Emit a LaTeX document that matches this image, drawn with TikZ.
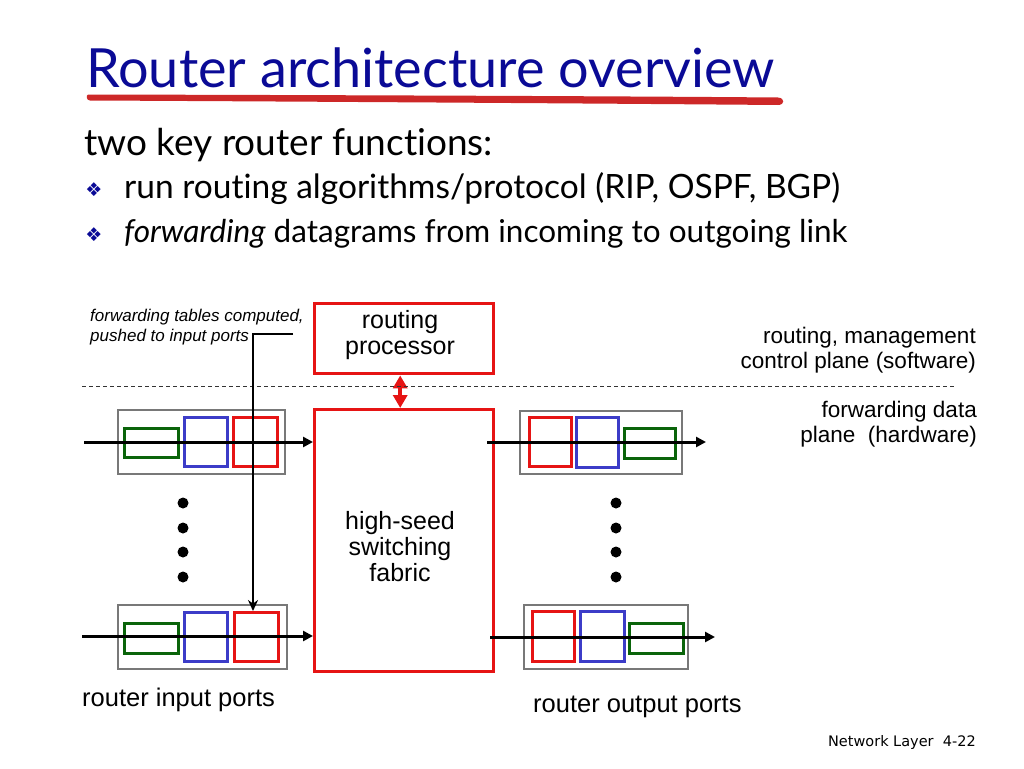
\documentclass[tikz,border=0pt]{standalone}
\usepackage{fontspec}
\setmainfont{Liberation Sans}
\newfontfamily\gillfont[Ligatures={NoCommon}]{Lato}
\newfontfamily\dejafont{DejaVu Sans}
\usetikzlibrary{arrows.meta}
\definecolor{titleblue}{RGB}{10,10,150}
\definecolor{brushred}{RGB}{205,40,40}
\definecolor{pred}{RGB}{230,20,20}
\definecolor{pblue}{RGB}{60,60,200}
\definecolor{pgreen}{RGB}{10,100,10}
\definecolor{pgray}{RGB}{120,120,120}
\tikzset{
  portbox/.style={draw=pgray, line width=2.4pt, inner sep=0pt, anchor=north west},
  qred/.style={draw=pred, line width=3pt, inner sep=0pt, anchor=north west},
  qblue/.style={draw=pblue, line width=3pt, inner sep=0pt, anchor=north west},
  qgreen/.style={draw=pgreen, line width=3pt, inner sep=0pt, anchor=north west},
  bigred/.style={draw=pred, line width=3.4pt, inner sep=0pt, anchor=north west},
  flow/.style={line width=3pt, -{Triangle[length=10pt,width=10pt]}},
  dot/.style={circle, fill=black, inner sep=0pt, minimum size=11pt},
  lbl/.style={inner sep=0pt, font=\fontsize{25}{26}\selectfont, align=center},
  side/.style={inner sep=0pt, font=\fontsize{22.5}{25}\selectfont, align=right, anchor=east},
  bul/.style={inner sep=0pt, text=titleblue, font=\dejafont\fontsize{19}{20}\selectfont},
}
\begin{document}
\begin{tikzpicture}[x=1pt,y=-1pt]
\useasboundingbox (0,0) rectangle (1024,768);
% title
\node[anchor=base west, inner sep=0pt, text=titleblue, font=\gillfont\fontsize{54}{58}\selectfont] (title) at (86,87) {Router architecture overview};
\fill[brushred] (88,94.5) .. controls (300,95) and (600,96) .. (778,97.5)
  .. controls (785,98) and (785,105) .. (778,105)
  .. controls (600,103.5) and (300,101.5) .. (90,100.5) .. controls (86,100.5) and (86,95) .. (88,94.5) -- cycle;
% subtitle and bullets
\node[anchor=base west, inner sep=0pt, font=\gillfont\fontsize{37}{40}\selectfont] (sub) at (84,155) {two key router functions:};
\node[bul] (b1) at (94,190) {❖};
\node[bul] (b2) at (94,235) {❖};
\node[anchor=base west, inner sep=0pt, font=\gillfont\fontsize{33.5}{36}\selectfont] (t1) at (124,198) {run routing algorithms/protocol (RIP, OSPF, BGP)};
\node[anchor=base west, inner sep=0pt, font=\gillfont\fontsize{31.5}{36}\selectfont] (t2) at (124,242) {\textit{forwarding} datagrams from incoming to outgoing link};
% annotation
\node[anchor=north west, inner sep=0pt, align=left, font=\itshape\fontsize{17}{20}\selectfont] (ann) at (90,309) {forwarding tables computed,\\pushed to input ports};
% routing processor and fabric
\node[bigred, minimum width=179pt, minimum height=70pt] (proc) at (313,302) {};
\node[lbl] (proctxt) at (400,335) {routing\\processor};
\node[bigred, minimum width=179pt, minimum height=262pt] (fab) at (313,408) {};
\node[lbl] (fabtxt) at (400,547) {high-seed\\switching\\fabric};
\draw[pred, line width=3.5pt, {Triangle[length=13pt,width=14pt]}-{Triangle[length=13pt,width=14pt]}] ([xshift=-4pt]proc.south) -- ([xshift=-4pt]fab.north);
% dashed separator
\coordinate (dl) at (82,386);
\coordinate (dr) at (955,386);
\draw[line width=0.9pt, dash pattern=on 4pt off 3pt, black!80] (dl) -- (dr);
% side labels
\node[side] (ctl) at (976,350) {routing, management\\control plane (software)};
\node[side] (fwd) at (977,424) {forwarding data\\plane\ \ (hardware)};
% input port top
\node[portbox, minimum width=167pt, minimum height=64pt] (ip1) at (117,409) {};
\node[qgreen, minimum width=54pt, minimum height=29pt] (ig1) at (123,427) {};
\node[qblue, minimum width=43pt, minimum height=49pt] (ib1) at (183,416) {};
\node[qred, minimum width=44pt, minimum height=49pt] (ir1) at (232,416) {};
\coordinate (in1) at (84,442);
\draw[flow] (in1) -- (fab.west |- in1);
% input port bottom
\node[portbox, minimum width=169pt, minimum height=64pt] (ip2) at (117,604) {};
\node[qgreen, minimum width=54pt, minimum height=30pt] (ig2) at (123,622) {};
\node[qblue, minimum width=43pt, minimum height=49pt] (ib2) at (183,611) {};
\node[qred, minimum width=44pt, minimum height=49pt] (ir2) at (233,611) {};
\coordinate (in2) at (82,636);
\draw[flow] (in2) -- (fab.west |- in2);
% pushed tables arrow
\coordinate (a0) at (293,334);
\coordinate (a1) at (253,334);
\draw[line width=1.8pt, -{Stealth[length=11pt,width=10pt]}] (a0) -- (a1) -- (a1 |- ir2.north);
% output port top
\node[portbox, minimum width=162pt, minimum height=63pt] (op1) at (519,410) {};
\node[qred, minimum width=42pt, minimum height=49pt] (or1) at (528,416) {};
\node[qblue, minimum width=42pt, minimum height=50pt] (ob1) at (575,416) {};
\node[qgreen, minimum width=51pt, minimum height=30pt] (og1) at (623,427) {};
\coordinate (out1s) at (487,442);
\coordinate (out1e) at (706,442);
\draw[flow] (out1s) -- (out1e);
% output port bottom
\node[portbox, minimum width=164pt, minimum height=64pt] (op2) at (523,604) {};
\node[qred, minimum width=42pt, minimum height=50pt] (or2) at (531,610) {};
\node[qblue, minimum width=44pt, minimum height=50pt] (ob2) at (579,610) {};
\node[qgreen, minimum width=54pt, minimum height=30pt] (og2) at (628,622) {};
\coordinate (out2s) at (490,637);
\coordinate (out2e) at (715,637);
\draw[flow] (out2s) -- (out2e);
% dots
\foreach \yy [count=\i] in {503,528,552,577} {
  \node[dot] (ld\i) at (183,\yy) {};
  \node[dot] (rd\i) at (616,\yy) {};
}
% bottom labels
\node[anchor=base west, inner sep=0pt, font=\fontsize{25.5}{28}\selectfont] (inlbl) at (82,706) {router input ports};
\node[anchor=base west, inner sep=0pt, font=\fontsize{25.5}{28}\selectfont] (outlbl) at (533,712) {router output ports};
\node[anchor=base east, inner sep=0pt, font=\dejafont\fontsize{14.5}{16}\selectfont] (foot) at (976,746) {Network Layer\ \ 4-22};
\end{tikzpicture}
\end{document}
